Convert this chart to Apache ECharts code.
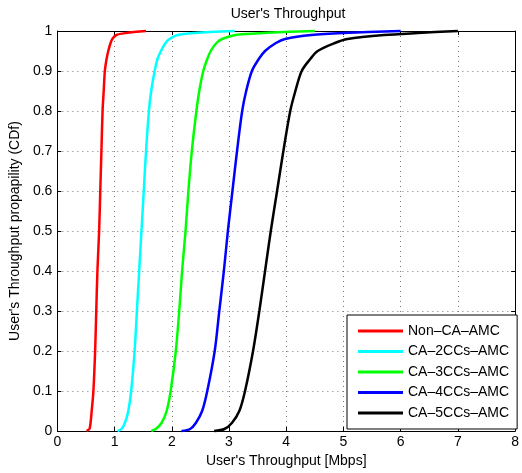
<!DOCTYPE html>
<html>
<head>
<meta charset="utf-8">
<script src="https://cdn.jsdelivr.net/npm/echarts@6/dist/echarts.min.js"></script>
<style>
  html, body { margin: 0; padding: 0; background: #fff; }
  #chart { width: 522px; height: 473px; }
</style>
</head>
<body>
<div id="chart"></div>
<script>
// Cumulative probability levels shared by every curve
const LEVELS = [0, 0.005, 0.02, 0.05, 0.1, 0.2, 0.3, 0.4, 0.5, 0.6, 0.7, 0.8, 0.85, 0.9, 0.93, 0.95, 0.97, 0.98, 0.99, 0.995, 1];

// Throughput (Mbps) reached at each probability level
const NON_CA  = [0.51, 0.56, 0.58, 0.60, 0.63, 0.66, 0.68, 0.70, 0.73, 0.75, 0.77, 0.79, 0.81, 0.83, 0.86, 0.89, 0.93, 0.96, 1.03, 1.20, 1.55];
const CA_2CC  = [1.05, 1.12, 1.18, 1.24, 1.29, 1.35, 1.39, 1.43, 1.47, 1.51, 1.55, 1.60, 1.64, 1.70, 1.75, 1.81, 1.89, 1.96, 2.10, 2.40, 3.10];
const CA_3CC  = [1.64, 1.72, 1.82, 1.91, 1.98, 2.07, 2.13, 2.18, 2.24, 2.29, 2.35, 2.43, 2.48, 2.55, 2.62, 2.68, 2.78, 2.88, 3.11, 3.60, 4.50];
const CA_4CC  = [2.17, 2.32, 2.42, 2.53, 2.62, 2.75, 2.83, 2.91, 2.98, 3.06, 3.14, 3.23, 3.30, 3.40, 3.52, 3.63, 3.82, 3.98, 4.44, 5.00, 6.00];
const CA_5CC  = [2.74, 2.92, 3.05, 3.18, 3.28, 3.42, 3.53, 3.63, 3.73, 3.84, 3.95, 4.07, 4.16, 4.27, 4.42, 4.55, 4.85, 5.07, 5.71, 6.30, 7.00];

const SERIES_NAMES  = ['Non–CA–AMC', 'CA–2CCs–AMC', 'CA–3CCs–AMC', 'CA–4CCs–AMC', 'CA–5CCs–AMC'];
const SERIES_VALUES = [NON_CA, CA_2CC, CA_3CC, CA_4CC, CA_5CC];
const SERIES_COLORS = ['#ff0000', '#00ffff', '#00ff00', '#0000ff', '#000000'];

// Axis tick labels
const X_TICKS = ['0', '1', '2', '3', '4', '5', '6', '7', '8'];
const Y_TICKS = ['0', '0.1', '0.2', '0.3', '0.4', '0.5', '0.6', '0.7', '0.8', '0.9', '1'];

const FONT = 'Liberation Sans, Arial, Helvetica, sans-serif';

const chart = echarts.init(document.getElementById('chart'), null, { renderer: 'canvas' });

const gridDots = { show: true, lineStyle: { color: '#7a7a7a', width: 1, type: [1, 4] } };
const boxLine = { show: true, onZero: false, lineStyle: { color: '#000', width: 1 } };
const tickIn = { show: true, inside: true, length: 4, lineStyle: { color: '#000', width: 1 } };

const xBase = { type: 'value', min: 0, max: X_TICKS.length - 1, interval: 1 };
const yBase = { type: 'value', min: 0, max: 1, interval: 0.1 };

chart.setOption({
  animation: false,
  backgroundColor: '#fff',
  textStyle: { fontFamily: FONT },
  title: {
    text: "User's Throughput",
    left: 288,
    top: 7,
    padding: 0,
    textAlign: 'center',
    textStyle: { fontFamily: FONT, fontSize: 14, fontWeight: 'normal', color: '#000' }
  },
  grid: { left: 57, right: 3, top: 31, bottom: 42, containLabel: false },
  legend: {
    orient: 'vertical',
    left: 347,
    top: 315,
    padding: [9, 8, 9, 11],
    itemWidth: 45,
    itemHeight: 3,
    itemGap: 6.5,
    icon: 'rect',
    backgroundColor: '#fff',
    borderColor: '#000',
    borderWidth: 1,
    borderRadius: 0,
    textStyle: { fontFamily: FONT, fontSize: 14, lineHeight: 14, color: '#000' },
    data: SERIES_NAMES
  },
  xAxis: [
    Object.assign({}, xBase, {
      position: 'bottom',
      name: "User's Throughput [Mbps]",
      nameLocation: 'middle',
      nameGap: 21,
      nameTextStyle: { fontFamily: FONT, fontSize: 14, color: '#000' },
      axisLine: boxLine,
      axisTick: tickIn,
      axisLabel: {
        margin: 4, fontFamily: FONT, fontSize: 14, color: '#000',
        formatter: (v) => X_TICKS[Math.round(v)]
      },
      splitLine: gridDots
    }),
    Object.assign({}, xBase, {
      position: 'top',
      axisLine: boxLine,
      axisTick: tickIn,
      axisLabel: { show: false },
      splitLine: { show: false }
    })
  ],
  yAxis: [
    Object.assign({}, yBase, {
      position: 'left',
      name: "User's Throughput propapility (CDf)",
      nameLocation: 'middle',
      nameGap: 28,
      nameTextStyle: { fontFamily: FONT, fontSize: 14, color: '#000' },
      axisLine: boxLine,
      axisTick: tickIn,
      axisLabel: {
        margin: 5, fontFamily: FONT, fontSize: 14, color: '#000',
        formatter: (v) => Y_TICKS[Math.round(v * 10)]
      },
      splitLine: gridDots
    }),
    Object.assign({}, yBase, {
      position: 'right',
      axisLine: boxLine,
      axisTick: tickIn,
      axisLabel: { show: false },
      splitLine: { show: false }
    })
  ],
  series: SERIES_NAMES.map((name, i) => ({
    name: name,
    type: 'line',
    xAxisIndex: 0,
    yAxisIndex: 0,
    showSymbol: false,
    symbol: 'none',
    smooth: 0.3,
    clip: false,
    color: SERIES_COLORS[i],
    lineStyle: { color: SERIES_COLORS[i], width: 2.5 },
    data: SERIES_VALUES[i].map((x, k) => [x, LEVELS[k]])
  }))
});
</script>
</body>
</html>
